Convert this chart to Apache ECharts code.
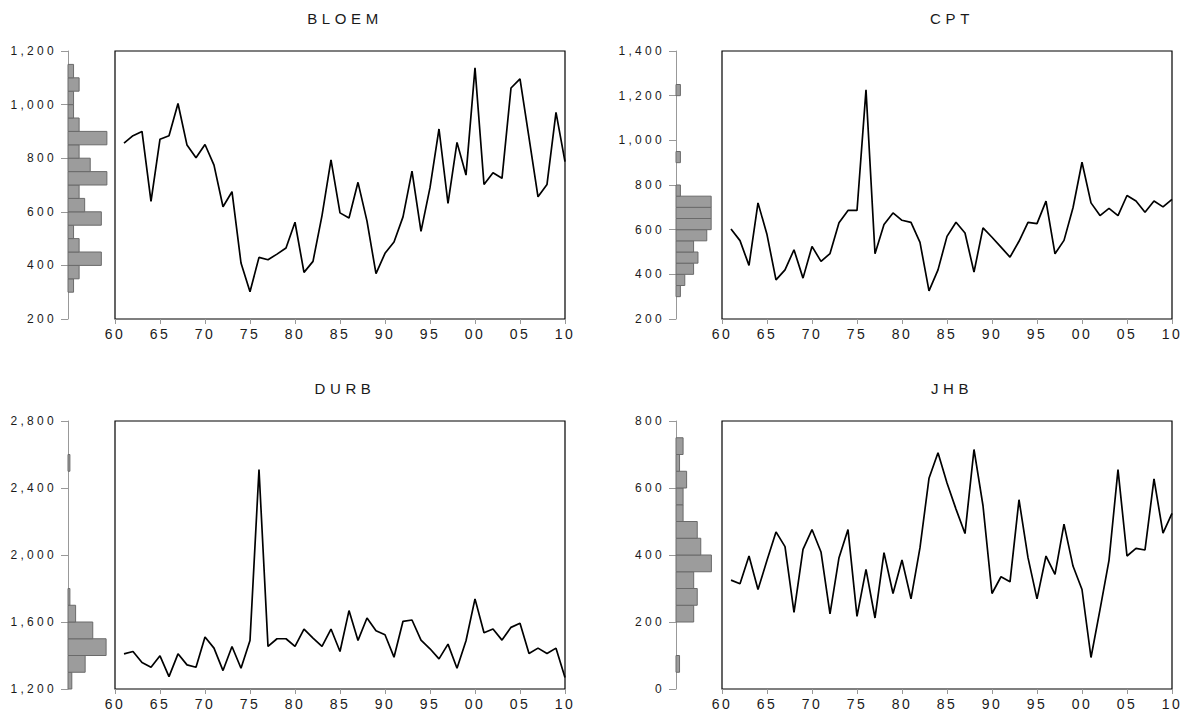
<!DOCTYPE html>
<html>
<head>
<meta charset="utf-8">
<script src="https://cdn.jsdelivr.net/npm/echarts@6/dist/echarts.min.js"></script>
<style>
  html, body { margin: 0; padding: 0; background: #fff; }
  #chart { width: 1183px; height: 712px; }
  #chart text { letter-spacing: 3px; }
  #chart text[style*="12px"] { letter-spacing: 3.3px; }
  #chart text[style*="14px"] { letter-spacing: 2.5px; }
  #chart text[style*="15px"] { letter-spacing: 4.6px; }
</style>
</head>
<body>
<div id="chart"></div>
<script>
// annual values 1961..2010
const firstYear = 1961;
const bloem = [856, 884, 900, 639, 871, 884, 1004, 849, 802, 851,
    774, 619, 675, 409, 302, 430, 421, 442, 465, 561,
    374, 415, 586, 794, 596, 577, 710, 565, 369, 445,
    487, 581, 752, 527, 690, 909, 631, 859, 737, 1137,
    702, 746, 725, 1062, 1096, 877, 656, 702, 971, 787];
const cpt = [603, 551, 440, 720, 578, 375, 420, 510, 383, 525,
    458, 493, 631, 686, 686, 1226, 492, 623, 675, 642,
    633, 543, 326, 420, 570, 633, 585, 410, 608, 566,
    522, 477, 548, 633, 627, 728, 492, 552, 698, 902,
    720, 663, 695, 663, 753, 728, 678, 728, 702, 736];
const durb = [1410, 1424, 1358, 1330, 1398, 1274, 1410, 1344, 1330, 1510,
    1444, 1310, 1454, 1324, 1490, 2510, 1454, 1500, 1500, 1454,
    1558, 1504, 1454, 1558, 1424, 1668, 1490, 1624, 1548, 1524,
    1390, 1604, 1612, 1492, 1440, 1380, 1468, 1324, 1488, 1738,
    1536, 1558, 1492, 1568, 1592, 1412, 1444, 1412, 1444, 1268];
const jhb = [325, 314, 397, 297, 384, 469, 425, 229, 417, 476,
    409, 224, 392, 476, 217, 357, 212, 407, 285, 385,
    269, 422, 629, 705, 615, 537, 464, 715, 547, 285,
    335, 320, 565, 392, 269, 397, 342, 492, 367, 297,
    94, 237, 384, 655, 397, 420, 415, 627, 465, 524];

// histogram counts, one per bin, starting at the first bin edge
const bloemHist = [1, 2, 6, 2, 1, 6, 3, 2, 7, 4, 2, 7, 2, 1, 1, 2, 1];
const cptHist = [1, 2, 4, 5, 4, 7, 8, 8, 8, 1, 0, 0, 1, 0, 0, 0, 0, 0, 1];
const durbHist = [2, 9, 20, 13, 4, 1, 0, 0, 0, 0, 0, 0, 0, 1];
const jhbHist = [1, 0, 0, 5, 6, 5, 10, 7, 6, 2, 2, 3, 1, 2];

const panels = [
    { name: 'BLOEM', vals: bloem, hist: bloemHist, binFrom: 300, binStep: 50,
      min: 200, max: 1200, interval: 200, histMax: 7.2, axisX: 68, boxX: 115, top: 51 },
    { name: 'CPT', vals: cpt, hist: cptHist, binFrom: 300, binStep: 50,
      min: 200, max: 1400, interval: 200, histMax: 9.1, axisX: 676, boxX: 722, top: 51 },
    { name: 'DURB', vals: durb, hist: durbHist, binFrom: 1200, binStep: 100,
      min: 1200, max: 2800, interval: 400, histMax: 21, axisX: 68, boxX: 115, top: 421 },
    { name: 'JHB', vals: jhb, hist: jhbHist, binFrom: 50, binStep: 50,
      min: 0, max: 800, interval: 200, histMax: 11.3, axisX: 676, boxX: 722, top: 421 }
];

const boxW = 450, boxH = 268;
const font = 'Liberation Sans';
const txt = '#1a1a1a';

const option = {
    animation: false,
    textStyle: { fontFamily: font },
    title: [],
    grid: [],
    xAxis: [],
    yAxis: [],
    series: []
};

panels.forEach((p, i) => {
    const gh = i * 2, gl = i * 2 + 1;

    option.title.push({
        text: p.name,
        left: p.boxX + boxW / 2,
        top: p.top - 45,
        textAlign: 'center',
        textStyle: { fontFamily: font, fontSize: 15, fontWeight: 'normal', color: txt }
    });

    // histogram zone
    option.grid.push({ left: p.axisX, top: p.top, width: 40, height: boxH });
    // line chart box
    option.grid.push({
        left: p.boxX, top: p.top, width: boxW, height: boxH,
        show: true, borderColor: '#000', borderWidth: 1.2, backgroundColor: 'transparent'
    });

    option.xAxis.push({
        type: 'value', gridIndex: gh, min: 0, max: p.histMax, show: false
    });
    option.xAxis.push({
        type: 'value', gridIndex: gl, min: 1960, max: 2010, interval: 5,
        axisLine: { show: false },
        axisTick: { show: true, length: 5, lineStyle: { color: '#999' } },
        splitLine: { show: false },
        axisLabel: {
            margin: 8, fontSize: 14, color: txt, fontFamily: font,
            showMinLabel: true, showMaxLabel: true,
            formatter: v => String(v % 100).padStart(2, '0')
        }
    });

    option.yAxis.push({
        type: 'value', gridIndex: gh, min: p.min, max: p.max, interval: p.interval,
        axisLine: { show: true, lineStyle: { color: '#999', width: 1 } },
        axisTick: { show: true, length: 7, lineStyle: { color: '#999' } },
        splitLine: { show: false },
        axisLabel: {
            margin: 11, fontSize: 12, color: txt, fontFamily: font,
            showMinLabel: true, showMaxLabel: true,
            formatter: v => v.toLocaleString('en-US')
        }
    });
    option.yAxis.push({
        type: 'value', gridIndex: gl, min: p.min, max: p.max, interval: p.interval, show: false
    });

    const bins = [];
    p.hist.forEach((c, k) => {
        if (c > 0) bins.push([p.binFrom + k * p.binStep, p.binFrom + (k + 1) * p.binStep, c]);
    });
    option.series.push({
        type: 'custom', xAxisIndex: gh, yAxisIndex: gh,
        encode: { x: 2, y: [0, 1] },
        data: bins,
        renderItem: (params, api) => {
            const a = api.coord([0, api.value(1)]);
            const b = api.coord([api.value(2), api.value(0)]);
            return {
                type: 'rect',
                shape: { x: a[0], y: a[1], width: b[0] - a[0], height: b[1] - a[1] },
                style: { fill: '#9c9c9c', stroke: '#6a6a6a', lineWidth: 1 }
            };
        }
    });

    option.series.push({
        type: 'line', xAxisIndex: gl, yAxisIndex: gl,
        data: p.vals.map((v, k) => [firstYear + k, v]),
        showSymbol: false,
        lineStyle: { color: '#000', width: 1.7 }
    });
});

const chart = echarts.init(document.getElementById('chart'), null, { renderer: 'svg' });
chart.setOption(option);
</script>
</body>
</html>
